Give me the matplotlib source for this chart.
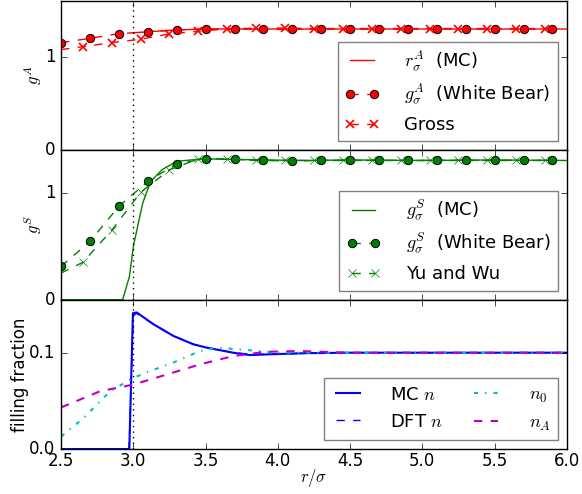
import matplotlib
matplotlib.use('Agg')
from matplotlib import pyplot as plt

plt.style.use('classic')
plt.rcParams['mathtext.fontset'] = 'cm'

# top panel: g^A
mc_a_r = [3.0, 3.1, 3.2, 3.3, 3.4, 3.5, 3.7, 4.0, 4.5, 5.0, 5.5, 6.0]
mc_a_g = [1.26, 1.27, 1.28, 1.29, 1.295, 1.30, 1.30, 1.30, 1.30, 1.30, 1.30, 1.30]

wb_r = [2.5, 2.7, 2.9, 3.1, 3.3, 3.5, 3.7, 3.9, 4.1, 4.3, 4.5, 4.7, 4.9, 5.1, 5.3, 5.5, 5.7, 5.9]
wb_a_g = [1.154, 1.20, 1.25, 1.27, 1.29, 1.30, 1.30, 1.295, 1.295, 1.30, 1.30, 1.30,
          1.30, 1.30, 1.30, 1.30, 1.30, 1.30]

gross_r = [2.5, 2.65, 2.85, 3.05, 3.25, 3.45, 3.65, 3.85, 4.05, 4.25, 4.45, 4.65,
           4.85, 5.05, 5.25, 5.45, 5.65, 5.85]
gross_g = [1.08, 1.11, 1.154, 1.19, 1.247, 1.276, 1.30, 1.31, 1.31, 1.305, 1.305, 1.305,
           1.305, 1.305, 1.305, 1.305, 1.305, 1.305]

# middle panel: g^S
mc_s_r = [2.5, 2.926, 2.973, 3.0, 3.03, 3.065, 3.12, 3.2, 3.3, 3.4, 3.5, 3.7, 3.9,
          4.2, 4.5, 5.0, 5.5, 6.0]
mc_s_g = [0.0, 0.0, 0.22, 0.5, 0.69, 0.906, 1.109, 1.22, 1.297, 1.31, 1.32, 1.315,
          1.31, 1.305, 1.31, 1.305, 1.31, 1.305]

wb_s_g = [0.312, 0.547, 0.875, 1.109, 1.275, 1.32, 1.315, 1.306, 1.30, 1.306, 1.306,
          1.306, 1.306, 1.306, 1.306, 1.306, 1.306, 1.306]

yw_r = gross_r
yw_g = [0.25, 0.35, 0.65, 1.006, 1.218, 1.32, 1.32, 1.305, 1.305, 1.305, 1.305, 1.305,
        1.305, 1.305, 1.305, 1.305, 1.305, 1.305]

# bottom panel: filling fraction
mc_n_r = [2.5, 2.972, 2.997, 3.023, 3.138, 3.277, 3.415, 3.508, 3.69, 3.807, 3.92,
          4.2, 4.5, 5.0, 5.5, 6.0]
mc_n = [0.0, 0.0, 0.141, 0.1418, 0.1296, 0.1174, 0.1087, 0.1052, 0.100, 0.0975,
        0.0982, 0.0995, 0.100, 0.100, 0.100, 0.100]

dft_n_r = [2.5, 2.97, 3.0, 3.02, 3.14, 3.28, 3.42, 3.51, 3.69, 3.8, 3.92, 4.2, 4.5,
           5.0, 5.5, 6.0]
dft_n = [0.0, 0.0, 0.138, 0.141, 0.1295, 0.1172, 0.1086, 0.1052, 0.1002, 0.0985,
         0.0985, 0.0995, 0.100, 0.100, 0.100, 0.100]

n0_r = [2.5, 2.654, 2.84, 3.0, 3.115, 3.3, 3.46, 3.577, 3.738, 4.0, 4.5, 5.0, 6.0]
n0 = [0.0129, 0.032, 0.06, 0.0739, 0.0808, 0.0912, 0.1017, 0.1052, 0.1034, 0.100,
      0.100, 0.100, 0.100]

na_r = [2.5, 2.77, 3.0, 3.23, 3.46, 3.69, 3.92, 4.15, 4.5, 5.0, 6.0]
na = [0.0432, 0.06, 0.0669, 0.0773, 0.0878, 0.0965, 0.101, 0.1017, 0.100, 0.100, 0.100]

fig = plt.figure(figsize=(5.82, 4.94), dpi=100, facecolor='w')
fig.subplots_adjust(left=0.105, right=0.974, bottom=0.091, top=0.998, hspace=0)

legend_kw = dict(loc='lower right', fontsize=13, handlelength=1.9, handletextpad=1.4)

ax1 = fig.add_subplot(3, 1, 1)
ax1.plot(mc_a_r, mc_a_g, 'r-', label=r'$r_\sigma^A$  (MC)')
ax1.plot(wb_r, wb_a_g, 'ro--', mec='k', mew=0.7, label=r'$g_\sigma^A$  (White Bear)')
ax1.plot(gross_r, gross_g, 'rx--', mew=1.2, markevery=list(range(1, len(gross_r))),
         label='Gross')
ax1.axvline(3.0, color='k', ls=':')
ax1.set_ylim(0, 1.6)
ax1.set_yticks([0, 1])
ax1.set_ylabel(r'$g^A$', labelpad=1)
ax1.legend(numpoints=2, **legend_kw)

ax2 = fig.add_subplot(3, 1, 2, sharex=ax1)
ax2.plot(mc_s_r, mc_s_g, 'g-', label=r'$g_\sigma^S$  (MC)')
ax2.plot(wb_r, wb_s_g, 'go--', mec='k', mew=0.7, label=r'$g_\sigma^S$  (White Bear)')
ax2.plot(yw_r, yw_g, 'gx--', markevery=list(range(1, len(yw_r))), label='Yu and Wu')
ax2.axvline(3.0, color='k', ls=':')
ax2.set_ylim(0, 1.4)
ax2.set_yticks([0, 1])
ax2.set_ylabel(r'$g^S$', labelpad=1)
ax2.legend(numpoints=2, **legend_kw)

ax3 = fig.add_subplot(3, 1, 3, sharex=ax1)
ax3.plot(mc_n_r, mc_n, 'b-', lw=1.5, label=r'MC $n$')
ax3.plot(dft_n_r, dft_n, 'b--', label=r'DFT $n$')
ax3.plot(n0_r, n0, 'c-.', lw=1.5, label=r'$n_0$')
ax3.plot(na_r, na, 'm--', lw=1.5, label=r'$n_A$')
ax3.axvline(3.0, color='k', ls=':')
ax3.set_ylim(0, 0.155)
ax3.set_yticks([0.0, 0.1])
ax3.set_xlim(2.5, 6.0)
ax3.set_xticks([2.5, 3.0, 3.5, 4.0, 4.5, 5.0, 5.5, 6.0])
ax3.set_ylabel('filling fraction', labelpad=0)
ax3.set_xlabel(r'$r/\sigma$', labelpad=-2)
ax3.legend(ncol=2, columnspacing=1.4, **legend_kw)

for ax in (ax1, ax2):
    plt.setp(ax.get_xticklabels(), visible=False)
for ax in (ax1, ax2, ax3):
    ax.tick_params(labelsize=12)
    ax.tick_params(axis='x', pad=2)
    ax.get_legend().get_frame().set_edgecolor('0.5')

plt.savefig('out.png', dpi=100)
